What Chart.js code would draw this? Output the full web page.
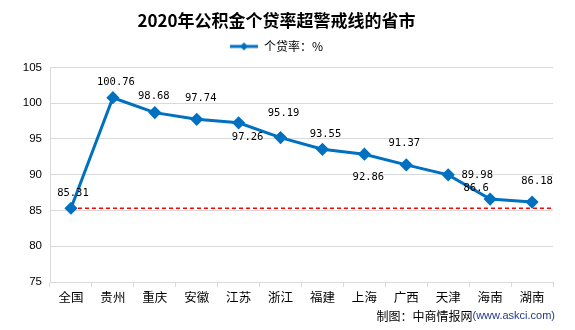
<!DOCTYPE html>
<html>
<head>
<meta charset="utf-8">
<script src="https://cdn.jsdelivr.net/npm/chart.js@4/dist/chart.umd.min.js"></script>
<style>
  html, body { margin: 0; padding: 0; background: #fff; }
  #wrap { width: 575px; height: 330px; position: relative; }
</style>
</head>
<body>
<div id="wrap"><canvas id="chart"></canvas></div>
<script>
// 2020 provident fund loan ratio, provinces above the warning line
const regions = ['全国', '贵州', '重庆', '安徽', '江苏', '浙江', '福建', '上海', '广西', '天津', '海南', '湖南'];
const loanRatio = [85.31, 100.76, 98.68, 97.74, 97.26, 95.19, 93.55, 92.86, 91.37, 89.98, 86.6, 86.18];
const yTicks = [75, 80, 85, 90, 95, 100, 105];

// where each value label sits relative to its point
const labelOffsets = [[2, -15], [3, -15], [-1, -16], [4, -21], [9, 14], [3, -24], [3, -15], [4, 23], [-2, -22], [29, 0], [-14, -11], [5, -21]];

const BLUE = '#0070C0';
const CJK = '"Noto Sans CJK SC", "Noto Sans", sans-serif';

// legend swatch: short line with a diamond in the middle
function legendSwatch() {
  const c = document.createElement('canvas');
  c.width = 28; c.height = 10;
  const g = c.getContext('2d');
  g.strokeStyle = BLUE; g.lineWidth = 3;
  g.beginPath(); g.moveTo(0, 5); g.lineTo(28, 5); g.stroke();
  g.fillStyle = BLUE;
  g.beginPath(); g.moveTo(14, 1); g.lineTo(18, 5); g.lineTo(14, 9); g.lineTo(10, 5); g.closePath(); g.fill();
  return c;
}
const swatch = legendSwatch();

const legendSpacer = {
  id: 'legendSpacer',
  beforeInit(chart) {
    const fit = chart.legend.fit;
    chart.legend.fit = function () {
      fit.bind(chart.legend)();
      this.height += 5;
    };
  }
};

// red dashed warning line at the national level
const warningLine = {
  id: 'warningLine',
  beforeDatasetsDraw(chart) {
    const { ctx, chartArea, scales } = chart;
    const first = chart.getDatasetMeta(0).data[0];
    const y = scales.y.getPixelForValue(loanRatio[0]);
    ctx.save();
    ctx.strokeStyle = '#FF0000';
    ctx.lineWidth = 1.5;
    ctx.setLineDash([4, 3]);
    ctx.beginPath();
    ctx.moveTo(first.x, y);
    ctx.lineTo(chartArea.right, y);
    ctx.stroke();
    ctx.restore();
  }
};

const valueLabels = {
  id: 'valueLabels',
  afterDatasetsDraw(chart) {
    const { ctx } = chart;
    const pts = chart.getDatasetMeta(0).data;
    ctx.save();
    ctx.font = '10.5px "DejaVu Sans Mono", monospace';
    ctx.fillStyle = '#000';
    ctx.textAlign = 'center';
    ctx.textBaseline = 'middle';
    pts.forEach((p, i) => {
      const [dx, dy] = labelOffsets[i];
      ctx.fillText(String(loanRatio[i]), p.x + dx, p.y + dy);
    });
    ctx.restore();
  }
};

const sourceNote = {
  id: 'sourceNote',
  afterDraw(chart) {
    const { ctx } = chart;
    const url = '(www.askci.com)';
    ctx.save();
    ctx.textBaseline = 'middle';
    ctx.textAlign = 'right';
    ctx.font = '11px "Liberation Sans", Arial, sans-serif';
    ctx.fillStyle = '#1F3C88';
    ctx.fillText(url, 555, 316);
    const w = ctx.measureText(url).width;
    ctx.font = '12px ' + CJK;
    ctx.fillStyle = '#000';
    ctx.fillText('制图：中商情报网', 555 - w, 316);
    ctx.restore();
  }
};

new Chart(document.getElementById('chart'), {
  type: 'line',
  data: {
    labels: regions,
    datasets: [{
      label: '个贷率：%',
      data: loanRatio,
      borderColor: BLUE,
      backgroundColor: BLUE,
      borderWidth: 3,
      pointStyle: 'rectRot',
      pointRadius: 4.5,
      pointHoverRadius: 4.5,
      tension: 0
    }]
  },
  options: {
    responsive: true,
    maintainAspectRatio: false,
    animation: false,
    layout: { padding: { left: 0, right: 22, top: 0, bottom: 0 } },
    plugins: {
      tooltip: { enabled: false },
      title: {
        display: true,
        text: '2020年公积金个贷率超警戒线的省市',
        color: '#000',
        font: { family: CJK, size: 17, weight: 'bold' },
        padding: { top: 10, bottom: 6 }
      },
      legend: {
        display: true,
        labels: {
          color: '#000',
          font: { family: CJK, size: 12 },
          usePointStyle: true,
          pointStyleWidth: 28,
          padding: 4,
          generateLabels(chart) {
            const items = Chart.defaults.plugins.legend.labels.generateLabels(chart);
            items.forEach(it => { it.pointStyle = swatch; });
            return items;
          }
        }
      }
    },
    scales: {
      x: {
        offset: true,
        afterFit(scale) { scale.height = 48; },
        grid: {
          offset: true,
          drawOnChartArea: false,
          drawTicks: true,
          tickLength: 5,
          color: '#D9D9D9'
        },
        border: { color: '#D9D9D9' },
        ticks: {
          color: '#000',
          padding: 3,
          font: { family: CJK, size: 12.5 },
          maxRotation: 0
        }
      },
      y: {
        min: 75,
        max: 105,
        afterFit(scale) { scale.width = 50; },
        afterBuildTicks(scale) { scale.ticks = yTicks.map(v => ({ value: v })); },
        grid: { color: '#D9D9D9', drawTicks: false },
        border: { color: '#D9D9D9' },
        ticks: {
          color: '#000',
          padding: 8,
          font: { family: '"Liberation Sans", Arial, sans-serif', size: 11.5 }
        }
      }
    }
  },
  plugins: [legendSpacer, warningLine, valueLabels, sourceNote]
});
</script>
</body>
</html>
